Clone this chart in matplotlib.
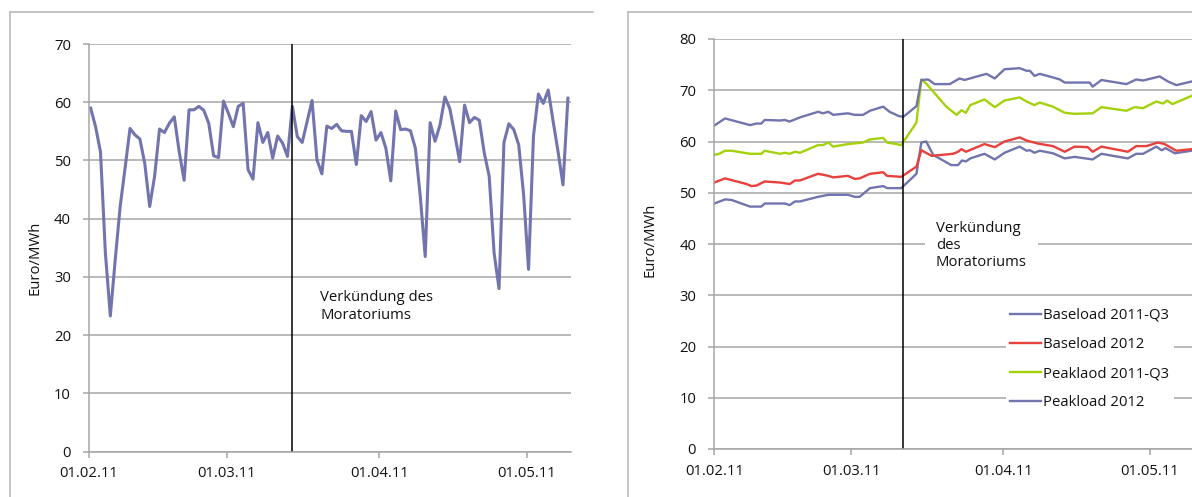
import numpy as np
import matplotlib.pyplot as plt
import matplotlib.dates as mdates
from matplotlib.lines import Line2D

plt.rcParams['font.family'] = ['Open Sans', 'DejaVu Sans']

W, H = 1192, 497
start = np.datetime64('2011-02-01T00:00')

# left chart: daily spot price (days after 01.02.11)
spot_days = list(range(98))
spot_price = [59.0, 55.8, 51.5, 34.1, 23.3, 33.0, 42.1, 48.7, 55.5, 54.4,
              53.7, 49.5, 42.1, 47.3, 55.4, 54.8, 56.4, 57.5, 51.5, 46.6,
              58.7, 58.7, 59.3, 58.6, 56.4, 50.8, 50.5, 60.2, 58.1, 55.8,
              59.3, 59.8, 48.4, 46.8, 56.5, 53.1, 54.8, 50.4, 54.2, 53.0,
              50.7, 59.3, 54.1, 53.1, 56.7, 60.3, 50.1, 47.7, 55.9, 55.5,
              56.2, 55.1, 55.0, 55.0, 49.3, 57.7, 56.7, 58.4, 53.5, 54.8,
              52.1, 46.5, 58.5, 55.3, 55.4, 55.1, 52.1, 43.8, 33.5, 56.5,
              53.3, 56.1, 60.9, 58.9, 54.5, 49.8, 59.5, 56.5, 57.4, 56.9,
              51.3, 47.3, 34.1, 28.0, 53.1, 56.3, 55.3, 52.7, 44.1, 31.3,
              54.2, 61.4, 59.8, 62.1, 56.7, 51.5, 45.8, 60.7]

# right chart: futures (days after 01.02.11, Euro/MWh)
base_q3_days = [0, 2.2, 3.5, 7.3, 9.6, 10.3, 13.4, 14.4, 15.4, 16.5, 17.5, 21.2,
                23.3, 27.3, 28.7, 29.7, 31.8, 34.5, 35.3, 38.2, 41.3, 42.3, 43.3,
                44.7, 48.4, 49.8, 50.6, 51.4, 52.3, 55.2, 57.3, 59.3, 62.4, 63.8,
                64.5, 65.4, 66.5, 69.2, 71.6, 73.6, 77.3, 79.1, 84.5, 86.2, 87.6,
                90.3, 91.4, 92.2, 94.1, 97.5]
base_q3 = [47.9, 48.7, 48.6, 47.3, 47.3, 47.9, 47.9, 47.9, 47.6, 48.3, 48.3, 49.2,
           49.6, 49.6, 49.2, 49.2, 50.9, 51.3, 50.9, 50.9, 53.7, 59.8, 60.0,
           57.4, 55.4, 55.4, 56.3, 56.1, 56.7, 57.6, 56.5, 57.8, 59.0, 58.2,
           58.3, 57.8, 58.2, 57.7, 56.7, 57.0, 56.5, 57.6, 56.7, 57.6, 57.6,
           59.0, 58.3, 58.7, 57.7, 58.2]

base_12_days = [0, 2.2, 6.6, 7.6, 8.6, 10.3, 13.4, 15.4, 16.5, 17.5, 21.2, 23.3,
                24.3, 27.3, 28.7, 29.7, 31.8, 34.5, 35.3, 38.2, 41.3, 42.3, 44.4,
                48.8, 49.8, 50.5, 51.4, 55.2, 57.3, 59.3, 62.4, 63.8, 66.1, 69.2,
                71.6, 73.6, 76.3, 77.3, 79.1, 84.5, 86.2, 88.3, 90.6, 92, 94.4, 97.5]
base_12 = [52.0, 52.8, 51.7, 51.3, 51.4, 52.2, 52.0, 51.7, 52.4, 52.4, 53.7, 53.3,
           53.0, 53.3, 52.7, 52.8, 53.7, 54.0, 53.3, 53.1, 55.1, 58.3, 57.2,
           57.6, 58.0, 58.5, 58.0, 59.5, 58.9, 60.0, 60.8, 60.2, 59.6, 59.1,
           58.0, 59.0, 58.9, 58.0, 59.0, 58.0, 59.1, 59.1, 59.8, 59.5, 58.2, 58.5]

peak_q3_days = [0, 1, 2.2, 3.5, 7.3, 9.6, 10.3, 13.4, 14.4, 15.4, 16.5, 17.5, 21.2,
                22.2, 23.3, 24.3, 27.3, 30.4, 31.8, 34.5, 35.3, 37.2, 38.2, 41.3,
                42.3, 43.3, 47.4, 49.5, 50.5, 51.4, 52.3, 55.2, 57.3, 59.3, 62.4,
                63.8, 65.4, 66.5, 69.2, 71.6, 73.6, 77.3, 79.1, 84.2, 85.9, 87.6,
                90.3, 91.7, 92.5, 93.6, 97.5]
peak_q3 = [57.4, 57.6, 58.2, 58.2, 57.6, 57.6, 58.2, 57.6, 57.8, 57.6, 58.0, 57.8,
           59.3, 59.3, 59.8, 59.0, 59.5, 59.8, 60.4, 60.7, 59.8, 59.5, 59.3, 63.7,
           72.1, 71.3, 66.8, 65.2, 66.1, 65.6, 67.1, 68.2, 66.7, 68.0, 68.6,
           67.8, 67.1, 67.6, 66.8, 65.6, 65.4, 65.5, 66.7, 66.0, 66.7, 66.5,
           67.8, 67.4, 68.0, 67.3, 68.9]

peak_12_days = [0, 2.2, 7.3, 8.6, 9.6, 10.3, 13.4, 14.4, 15.4, 17.5, 21.2, 22.2,
                23.3, 24.3, 27.3, 28.7, 30.4, 31.8, 34.5, 35.8, 37.6, 38.6, 41.3,
                42.3, 43.7, 45, 48.1, 50.1, 51.1, 55.6, 57.3, 59.3, 62.4, 63.8, 64.5,
                65.4, 66.5, 69.2, 70.6, 71.6, 76.7, 77.3, 79.1, 84.2, 86.2, 87.6,
                91, 92.7, 94.4, 97.5]
peak_12 = [63.1, 64.5, 63.2, 63.5, 63.5, 64.2, 64.1, 64.2, 63.9, 64.7, 65.8, 65.5,
           65.8, 65.2, 65.5, 65.2, 65.2, 66.0, 66.8, 65.8, 65.0, 64.8, 66.9,
           72.0, 72.1, 71.2, 71.2, 72.3, 72.0, 73.2, 72.3, 74.1, 74.3, 73.8, 73.8,
           72.8, 73.2, 72.5, 72.1, 71.5, 71.5, 70.7, 72.0, 71.2, 72.1, 71.9,
           72.7, 71.7, 71.0, 71.7]

labels = ['Baseload 2011-Q3', 'Baseload 2012', 'Peaklaod 2011-Q3', 'Peakload 2012']
colors = ['#7274ad', '#e8403c', '#a4d20a', '#7274ad']

moratorium_left = np.datetime64('2011-03-14T06:00')
moratorium_right = np.datetime64('2011-03-11T12:00')

grid_c = '#a6a6a6'
text_c = '#111111'
fs = 10.7


def to_dates(days):
    return start + (np.array(days) * 24 * 60).astype(int) * np.timedelta64(1, 'm')


def style(ax, ymax, end_days):
    ax.set_ylim(0, ymax)
    ax.set_yticks(range(0, ymax + 1, 10))
    ax.set_xlim(start, to_dates([end_days])[0])
    ax.xaxis.set_major_locator(mdates.MonthLocator())
    ax.xaxis.set_major_formatter(mdates.DateFormatter('%d.%m.%y'))
    ax.grid(axis='y', color=grid_c, lw=1.1)
    ax.grid(axis='x', visible=False)
    ax.set_axisbelow(True)
    for s in ('top', 'right'):
        ax.spines[s].set_visible(False)
    for s in ('left', 'bottom'):
        ax.spines[s].set_color(grid_c)
        ax.spines[s].set_linewidth(1.1)
    ax.tick_params(axis='y', colors=grid_c, labelcolor=text_c, length=4.5,
                   width=1.1, pad=8.5, labelsize=fs)
    ax.tick_params(axis='x', colors=grid_c, labelcolor=text_c, length=4,
                   width=1.1, pad=6.5, labelsize=fs)


fig = plt.figure(figsize=(W / 100, H / 100), dpi=100)

# panel frames
for x0, x1 in ((10, 593), (628, W)):
    fig.add_artist(Line2D([x0 / W, x0 / W], [1 - 12 / H, 0], color='#b4b4b4', lw=1.1))
    fig.add_artist(Line2D([x0 / W, x1 / W], [1 - 12 / H, 1 - 12 / H], color='#b4b4b4', lw=1.1))

# left chart
ax1 = fig.add_axes([89 / W, 1 - 451.7 / H, 481.7 / W, 407.7 / H])
style(ax1, 70, 97.9)
ax1.plot(to_dates(np.array(spot_days) + 1 / 3), spot_price, color='#7274ad', lw=2.2)
ax1.axvline(moratorium_left, color='black', lw=1.1)
ax1.text(0.4796, 0.357, 'Verkündung des\nMoratoriums', transform=ax1.transAxes,
         ha='left', va='center', fontsize=fs, color=text_c, linespacing=1.25)
fig.text(34.5 / W, 1 - 258 / H, 'Euro/MWh', rotation=90, ha='center', va='center',
         fontsize=fs, color=text_c)

# right chart
ax2 = fig.add_axes([714.3 / W, 1 - 449 / H, 477.7 / W, 410 / H])
style(ax2, 80, 97.6)
series = [(base_q3_days, base_q3), (base_12_days, base_12),
          (peak_q3_days, peak_q3), (peak_12_days, peak_12)]
handles = []
for (d, v), lab, c in zip(series, labels, colors):
    h, = ax2.plot(to_dates(d), v, color=c, lw=1.7, label=lab)
    handles.append(h)
ax2.axvline(moratorium_right, color='black', lw=1.1)
ax2.text(0.464, 0.496, 'Verkündung\ndes\nMoratoriums', transform=ax2.transAxes,
         ha='left', va='center', fontsize=fs, color=text_c, linespacing=1.15,
         bbox=dict(boxstyle='square,pad=0.75', fc='white', ec='none'))
fig.text(650 / W, 1 - 240 / H, 'Euro/MWh', rotation=90, ha='center', va='center',
         fontsize=fs, color=text_c)
ax2.legend(handles, labels, loc='center left', bbox_to_anchor=(1006 / W, 1 - 359 / H),
           bbox_transform=fig.transFigure, frameon=True, fancybox=False,
           edgecolor='none', facecolor='white', framealpha=1, borderaxespad=0,
           borderpad=0.3, handlelength=2.05, handletextpad=0.15, labelspacing=0.95,
           fontsize=fs, labelcolor=text_c)

fig.savefig('out.png', dpi=100)
